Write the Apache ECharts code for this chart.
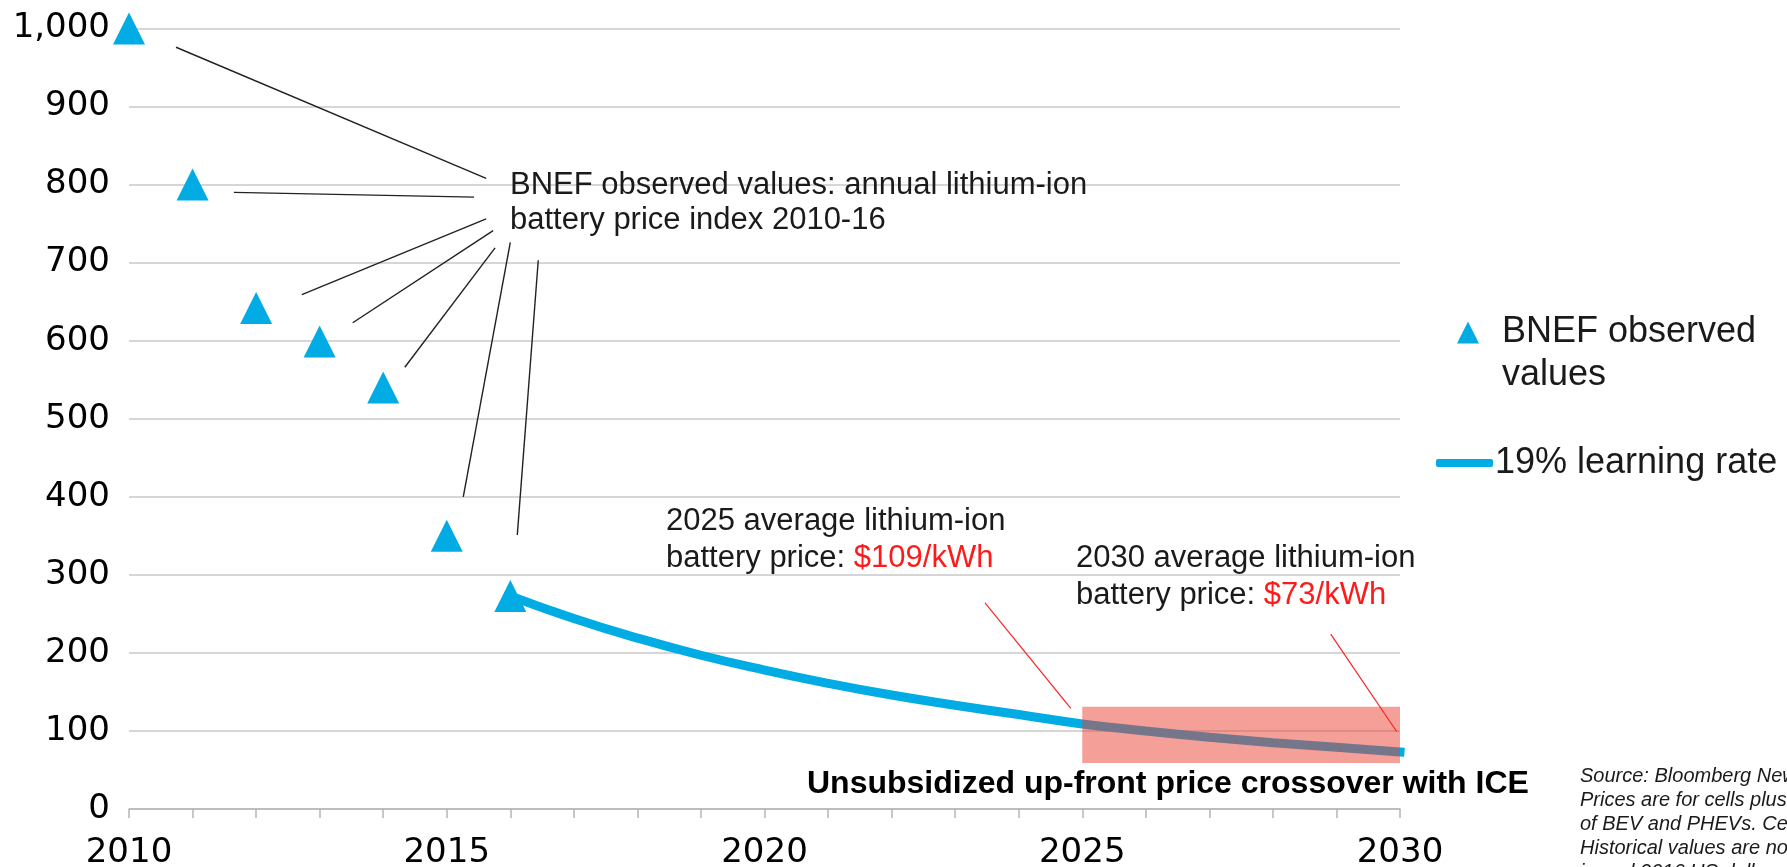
<!DOCTYPE html>
<html>
<head>
<meta charset="utf-8">
<title>Lithium-ion battery price outlook</title>
<script src="https://cdn.jsdelivr.net/npm/echarts@6/dist/echarts.min.js"></script>
<style>
  html, body { margin: 0; padding: 0; background: #fff; }
  #chart { width: 1787px; height: 867px; }
</style>
</head>
<body>
<div id="chart"></div>
<script>
// observed BNEF price index ($/kWh)
const obsYears = [2010, 2011, 2012, 2013, 2014, 2015, 2016];
const obsPrices = [1000, 800, 642, 599, 540, 350, 273];

// 19% learning-rate projection
const curveYears = [2016, 2017, 2018, 2019, 2020, 2021, 2022, 2023, 2024, 2025, 2026, 2027, 2028, 2029, 2030];
const curvePrices = [273, 244, 219, 197, 178, 161, 146, 133, 121, 109, 100, 92, 85, 79, 73];

// crossover band (years, $/kWh)
const bandYears = [2025, 2030];
const bandPrices = [59, 131];

// leader lines from the annotation to the points, in data units
const blackLeaders = [
  [[2010.74, 976], [2015.62, 808]],
  [[2011.65, 790], [2015.43, 784]],
  [[2012.72, 659], [2015.62, 756]],
  [[2013.52, 623], [2015.73, 741]],
  [[2014.34, 566], [2015.76, 719]],
  [[2015.26, 400], [2016.00, 726]],
  [[2016.11, 351], [2016.44, 703]]
];
const redLeaders = [
  [[2023.47, 264], [2024.82, 129]],
  [[2028.91, 224], [2029.95, 99]]
];

const yTicks = [0, 100, 200, 300, 400, 500, 600, 700, 800, 900, 1000];

const FONT = '"Liberation Sans", Arial, Helvetica, sans-serif';
const AXIS_FONT = '"DejaVu Sans", Verdana, sans-serif';
const BLUE = '#00ACE3';
const INK = '#1a1a1a';

const chart = echarts.init(document.getElementById('chart'), null, { renderer: 'canvas' });

function leaderData(list) {
  return list.map(seg => [{ coord: seg[0] }, { coord: seg[1] }]);
}

function note(x, y, text, extra) {
  return {
    type: 'text',
    x: x,
    y: y,
    z: 20,
    style: Object.assign({
      text: text,
      fontFamily: FONT,
      fontSize: 31,
      fill: INK,
      verticalAlign: 'middle',
      rich: { r: { fill: '#ff1a1a', fontFamily: FONT, fontSize: 31 } }
    }, extra || {})
  };
}

const sourceLines = [
  'Source: Bloomberg New Energy Finance. Note:',
  'Prices are for cells plus pack, and reflect an average',
  'of BEV and PHEVs. Cell and pack prices are combined.',
  'Historical values are nominal; forecast values are',
  'in real 2016 US dollars.'
];

const option = {
  animation: false,
  backgroundColor: '#fff',
  textStyle: { fontFamily: FONT },
  grid: { left: 129, right: 387, top: 28.5, bottom: 58, outerBoundsMode: 'none' },
  xAxis: {
    type: 'value',
    min: 2010,
    max: 2030,
    interval: 1,
    axisLine: { onZero: true, lineStyle: { color: '#b5b5b5', width: 1.5 } },
    axisTick: { show: true, length: 9, lineStyle: { color: '#b5b5b5', width: 1.5 } },
    splitLine: { show: false },
    axisLabel: {
      margin: 27,
      fontSize: 34,
      color: '#000',
      fontFamily: AXIS_FONT,
      formatter: v => (v % 5 === 0 ? String(v) : '')
    }
  },
  yAxis: {
    type: 'value',
    min: yTicks[0],
    max: yTicks[yTicks.length - 1],
    interval: 100,
    axisLine: { show: false },
    axisTick: { show: false },
    splitLine: { lineStyle: { color: '#c8c8c8', width: 1.5 } },
    axisLabel: {
      margin: 19,
      fontSize: 34,
      color: '#000',
      fontFamily: AXIS_FONT,
      formatter: v => v.toLocaleString('en-US')
    }
  },
  legend: [
    {
      data: [{ name: 'BNEF observed values', icon: 'triangle' }],
      left: 1457,
      top: 312,
      padding: 0,
      itemWidth: 22,
      itemHeight: 22,
      formatter: () => 'BNEF observed',
      textStyle: { fontSize: 36, lineHeight: 41, color: INK, fontFamily: FONT, padding: [0, 0, 0, 18] }
    },
    {
      data: [{ name: '19% learning rate', icon: 'roundRect' }],
      left: 1436,
      top: 443,
      padding: 0,
      itemWidth: 57,
      itemHeight: 8,
      textStyle: { fontSize: 36, lineHeight: 40, color: INK, fontFamily: FONT, padding: [0, 0, 0, -3] }
    }
  ],
  series: [
    {
      name: '19% learning rate',
      type: 'line',
      smooth: true,
      symbol: 'none',
      z: 2,
      lineStyle: { color: BLUE, width: 9, cap: 'square' },
      itemStyle: { color: BLUE },
      data: curveYears.map((y, i) => [y, curvePrices[i]])
    },
    {
      name: 'BNEF observed values',
      type: 'scatter',
      symbol: 'triangle',
      symbolSize: 32,
      z: 3,
      itemStyle: { color: BLUE, opacity: 1 },
      data: obsYears.map((y, i) => [y, obsPrices[i]]),
      markLine: {
        silent: true,
        symbol: ['none', 'none'],
        label: { show: false },
        lineStyle: { color: '#222', width: 1.4, type: 'solid' },
        data: leaderData(blackLeaders)
      }
    },
    {
      name: 'crossover',
      type: 'line',
      data: [],
      z: 6,
      markArea: {
        silent: true,
        z: 10,
        itemStyle: { color: 'rgba(236, 64, 52, 0.5)' },
        data: [[
          { coord: [bandYears[0], bandPrices[1]] },
          { coord: [bandYears[1], bandPrices[0]] }
        ]]
      },
      markLine: {
        silent: true,
        z: 11,
        symbol: ['none', 'none'],
        label: { show: false },
        lineStyle: { color: '#ff2020', width: 1.2, type: 'solid' },
        data: leaderData(redLeaders)
      }
    }
  ],
  graphic: [
    note(1502, 375, 'values', { fontSize: 36 }),
    note(510, 185, 'BNEF observed values: annual lithium-ion'),
    note(510, 220, 'battery price index 2010-16'),
    note(666, 521, '2025 average lithium-ion'),
    note(666, 558, 'battery price: {r|$109/kWh}'),
    note(1076, 558, '2030 average lithium-ion'),
    note(1076, 595, 'battery price: {r|$73/kWh}'),
    note(807, 784, 'Unsubsidized up-front price crossover with ICE', { fontSize: 32, fontWeight: 'bold', fill: '#000' })
  ].concat(sourceLines.map((t, i) => note(1580, 776 + i * 24, t, {
    fontSize: 20, fontStyle: 'italic', fill: INK
  })))
};

chart.setOption(option);
</script>
</body>
</html>
